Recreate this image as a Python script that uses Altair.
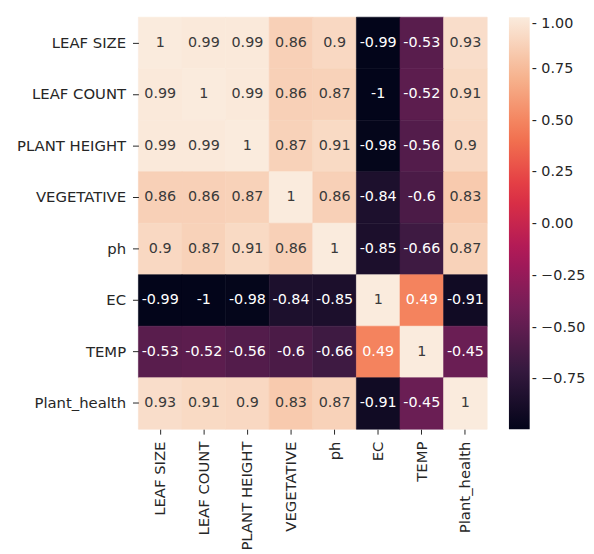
import altair as alt
import pandas as pd

labels = ["LEAF SIZE", "LEAF COUNT", "PLANT HEIGHT", "VEGETATIVE", "ph", "EC", "TEMP", "Plant_health"]
row_leaf_size = [1, 0.99, 0.99, 0.86, 0.9, -0.99, -0.53, 0.93]
row_leaf_count = [0.99, 1, 0.99, 0.86, 0.87, -1, -0.52, 0.91]
row_plant_height = [0.99, 0.99, 1, 0.87, 0.91, -0.98, -0.56, 0.9]
row_vegetative = [0.86, 0.86, 0.87, 1, 0.86, -0.84, -0.6, 0.83]
row_ph = [0.9, 0.87, 0.91, 0.86, 1, -0.85, -0.66, 0.87]
row_ec = [-0.99, -1, -0.98, -0.84, -0.85, 1, 0.49, -0.91]
row_temp = [-0.53, -0.52, -0.56, -0.6, -0.66, 0.49, 1, -0.45]
row_plant_health = [0.93, 0.91, 0.9, 0.83, 0.87, -0.91, -0.45, 1]
matrix = [row_leaf_size, row_leaf_count, row_plant_height, row_vegetative,
          row_ph, row_ec, row_temp, row_plant_health]

cbar_ticks = [-0.75, -0.5, -0.25, 0.0, 0.25, 0.5, 0.75, 1.0]
rocket = ["#03051a", "#35193e", "#701f57", "#ad1759", "#e13342", "#f37651", "#f6b48f", "#faebdd"]

vmin, vmax = -0.99, 1.0
dom = [vmin + (vmax - vmin) * k / (len(rocket) - 1) for k in range(len(rocket))]


def edge_color(v):
    # same colour as the cell fill, used only for the thin seam-hiding outline
    t = min(max((v - vmin) / (vmax - vmin), 0.0), 1.0) * (len(rocket) - 1)
    k = min(int(t), len(rocket) - 2)
    f = t - k
    a = [int(rocket[k][i:i + 2], 16) for i in (1, 3, 5)]
    b = [int(rocket[k + 1][i:i + 2], 16) for i in (1, 3, 5)]
    return "#" + "".join(f"{round(x + (y - x) * f):02x}" for x, y in zip(a, b))


rows = []
for i, r in enumerate(labels):
    for j, c in enumerate(labels):
        v = matrix[i][j]
        rows.append({"row": r, "col": c, "value": v, "edge": edge_color(v), "label": f"{v:.2g}"})
df = pd.DataFrame(rows)

FS = 15
base = alt.Chart(df)

heat = base.mark_rect(strokeWidth=0.6).encode(
    x=alt.X("col:N", sort=labels, title=None,
            axis=alt.Axis(labelAngle=270, domain=False, ticks=True, tickSize=5,
                          tickColor="#262626", labelColor="#262626", labelFontSize=FS,
                          labelFont="DejaVu Sans", labelPadding=7)),
    y=alt.Y("row:N", sort=labels, title=None,
            axis=alt.Axis(domain=False, ticks=True, tickSize=6, tickColor="#262626",
                          labelColor="#262626", labelFontSize=FS, labelFont="DejaVu Sans",
                          labelPadding=7)),
    color=alt.Color("value:Q",
                    scale=alt.Scale(domain=dom, range=rocket, interpolate="rgb", clamp=True),
                    legend=alt.Legend(type="gradient", title=None, orient="right",
                                      gradientLength=417, gradientThickness=21, offset=22,
                                      values=cbar_ticks, format=".2f",
                                      labelExpr="'- ' + datum.label",
                                      labelFontSize=14.5, labelFont="DejaVu Sans",
                                      labelColor="#262626", labelBaseline="middle",
                                      labelOffset=2, gradientStrokeWidth=0, padding=0)),
    stroke=alt.Stroke("edge:N", scale=None),
)

text = base.mark_text(fontSize=14.5, font="DejaVu Sans").encode(
    x=alt.X("col:N", sort=labels),
    y=alt.Y("row:N", sort=labels),
    text="label:N",
    color=alt.condition(alt.datum.value > 0.6, alt.value("#3a3a3a"), alt.value("#ffffff")),
)

chart = (heat + text).properties(
    width=353, height=417,
    padding={"top": 5, "left": 8, "right": 0, "bottom": 0},
).configure_view(stroke=None).configure_axis(grid=False)

chart.save("out.html", embed_options={"renderer": "svg", "actions": False})
